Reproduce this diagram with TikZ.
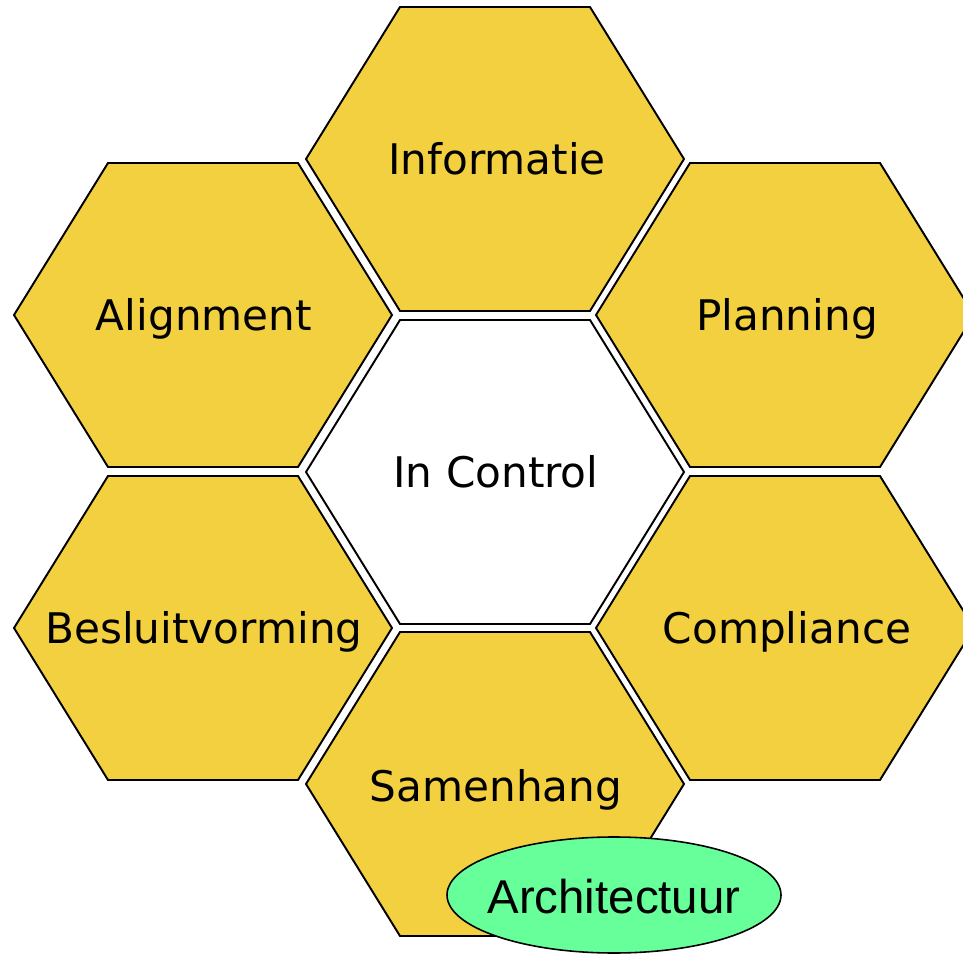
\documentclass[tikz,border=0pt]{standalone}
\usepackage{fontspec}
\setmainfont{DejaVu Sans}
\newfontfamily\archfont{Liberation Sans}
\definecolor{honey}{RGB}{242,208,64}
\definecolor{mint}{RGB}{102,255,153}
\tikzset{
  cell/.style={draw=black, line width=1.1pt, line join=miter},
  celltext/.style={font=\fontsize{24}{28}\selectfont, inner sep=0pt, text height=17.5pt, text depth=0pt},
}
% flat-topped hexagon around a centre given in pixels
\newcommand{\hexcell}[3]{%
  \filldraw[cell, fill=#3] (#1-189,#2) -- (#1-95,#2-152) -- (#1+95,#2-152)
    -- (#1+189,#2) -- (#1+95,#2+152) -- (#1-95,#2+152) -- cycle;}

\begin{document}
\begin{tikzpicture}[x=0.02cm, y=-0.02cm]
    \useasboundingbox (0,0) rectangle (963,955);

    % Ring of yellow cells
    \hexcell{495}{159}{honey}
    \hexcell{203}{315}{honey}
    \hexcell{785}{315}{honey}
    \hexcell{203}{628}{honey}
    \hexcell{785}{628}{honey}
    \hexcell{495}{784}{honey}

    % Centre cell
    \hexcell{495}{472}{white}

    % Labels
    \node[celltext] (informatie) at (497,159) {Informatie};
    \node[celltext] (alignment) at (204,315) {Alignment};
    \node[celltext] (planning) at (787,315) {Planning};
    \node[celltext] (incontrol) at (496,472) {In Control};
    \node[celltext] (besluit) at (204,628) {Besluitvorming};
    \node[celltext] (compliance) at (787,628) {Compliance};
    \node[celltext] (samenhang) at (496,786) {Samenhang};

    % Architectuur ellipse over the bottom cell
    \filldraw[fill=mint, draw=black, line width=0.9pt] (614,895) ellipse [x radius=167, y radius=58];
    \node[inner sep=0pt, text height=19.3pt, text depth=0pt,
          font=\archfont\fontsize{27}{32}\selectfont] (architectuur) at (614,897) {Architectuur};
\end{tikzpicture}
\end{document}
